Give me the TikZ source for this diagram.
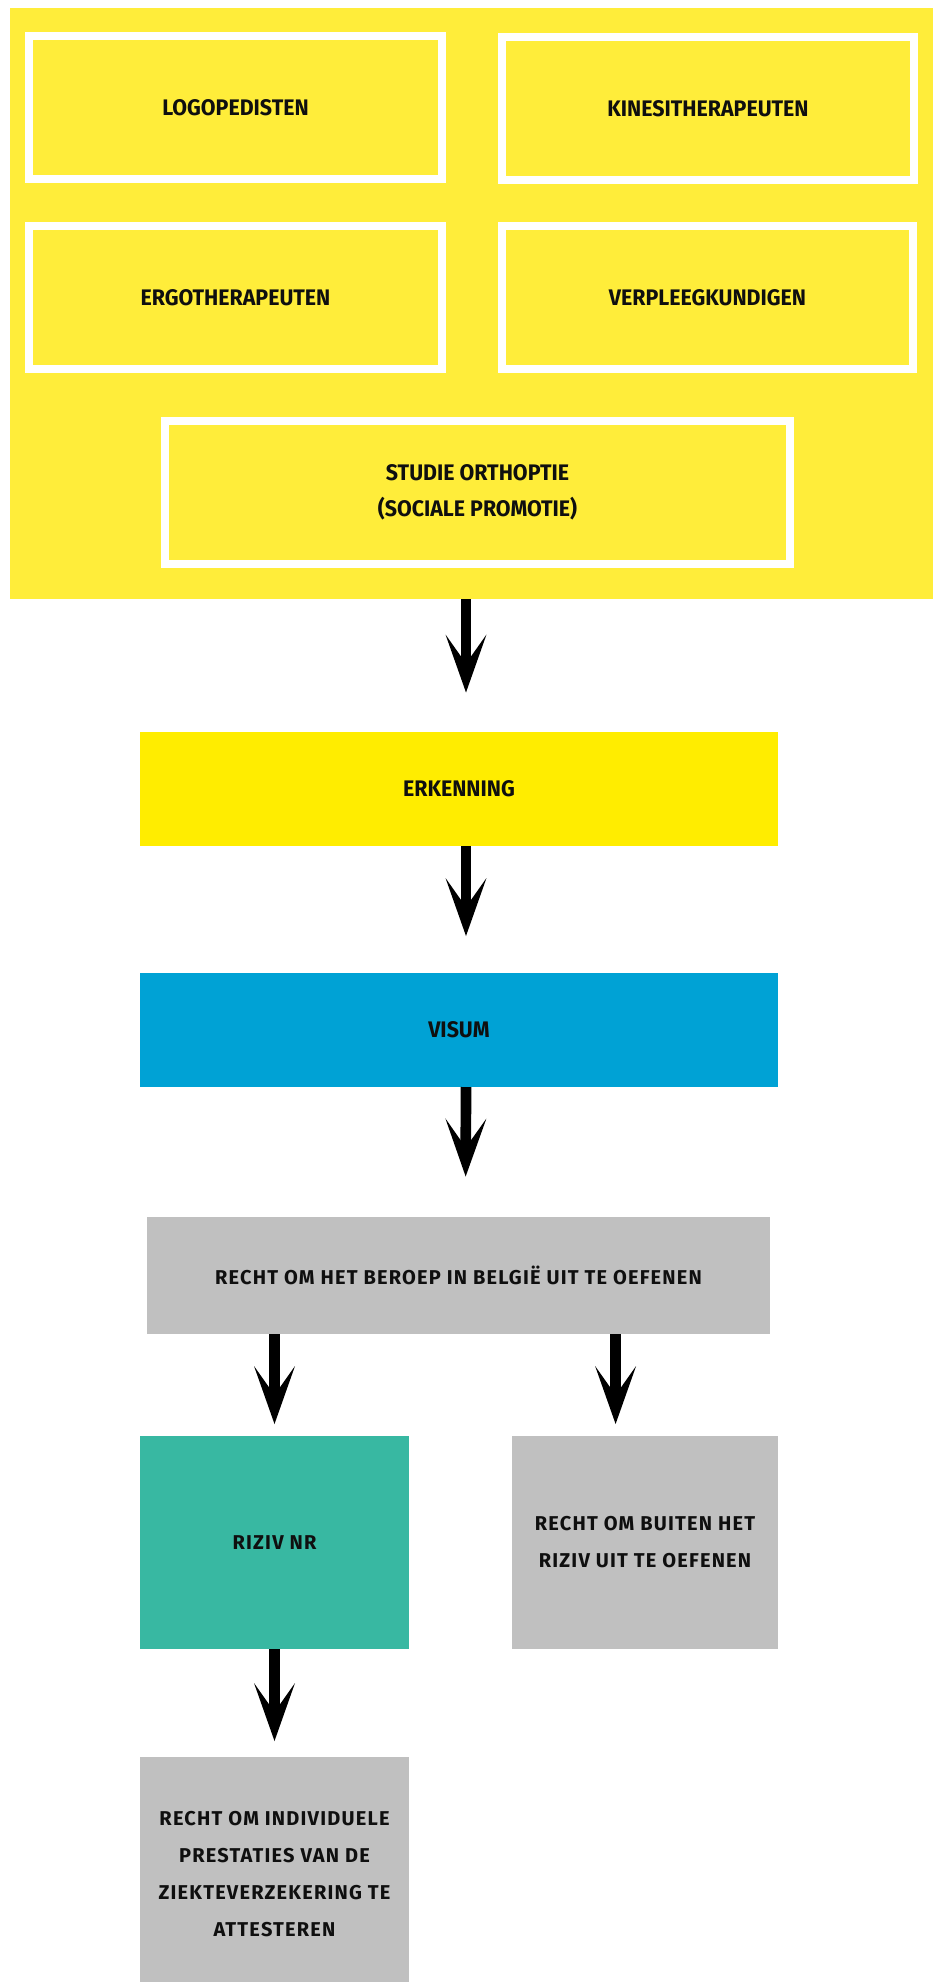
\documentclass[tikz,border=0pt]{standalone}
\usepackage{fontspec}
\setmainfont{Fira Sans}
\newfontfamily\condfont{Fira Sans}[FakeStretch=0.95]
\newfontfamily\widefont{Fira Sans}[LetterSpace=6.0]
\usetikzlibrary{arrows.meta}
\definecolor{bgyellow}{RGB}{255,237,58}
\definecolor{yell}{RGB}{255,237,0}
\definecolor{blu}{RGB}{0,162,213}
\definecolor{gry}{RGB}{192,192,192}
\definecolor{tealc}{RGB}{56,184,162}
\definecolor{ink}{RGB}{15,15,15}
\begin{document}
\begin{tikzpicture}[x=1pt,y=-1pt,
  every node/.style={inner sep=0pt,outer sep=0pt},
  wbox/.style={draw=white,line width=8pt,fill=bgyellow,minimum width=#1-8pt,minimum height=143pt,
    font=\condfont\bfseries\fontsize{22.5}{35.6}\selectfont,text=ink,align=center},
  cbox/.style={fill=#1,font=\condfont\bfseries\fontsize{22.5}{35.6}\selectfont,text=ink,align=center},
  gbox/.style={fill=#1,font=\widefont\bfseries\fontsize{20}{37}\selectfont,text=ink,align=center},
  arr/.style={line width=10.7pt,draw=black,
    -{Stealth[length=58pt,width=41pt,inset=29pt,line width=0pt]}}]
\useasboundingbox (0,0) rectangle (933,1982);
\fill[white] (0,0) rectangle (933,1982);
% top yellow panel
\node[fill=bgyellow,minimum width=923pt,minimum height=591pt] (bg) at (471.5,303.5) {};
\node[wbox=421pt] (logo) at (235.5,107.5) {LOGOPEDISTEN};
\node[wbox=420pt] (kine) at (708,108.3) {KINESITHERAPEUTEN};
\node[wbox=421pt] (ergo) at (235.5,297.5) {ERGOTHERAPEUTEN};
\node[wbox=419pt] (verp) at (707.5,297.5) {VERPLEEGKUNDIGEN};
\node[wbox=633pt] (stud) at (477.5,492.5) {STUDIE ORTHOPTIE\\(SOCIALE PROMOTIE)};
% chain
\node[cbox=yell,minimum width=638pt,minimum height=114pt] (erk) at (459,789) {ERKENNING};
\node[cbox=blu,minimum width=638pt,minimum height=114pt] (vis) at (459,1030) {VISUM};
\node[gbox=gry,minimum width=623pt,minimum height=117.5pt] (recht) at (458.5,1275.25) {RECHT OM HET BEROEP IN BELGIË UIT TE OEFENEN};
\node[gbox=tealc,minimum width=269pt,minimum height=213pt] (riziv) at (274.5,1542.5) {RIZIV NR};
\node[gbox=gry,minimum width=266pt,minimum height=213pt] (buiten) at (645,1542.5) {RECHT OM BUITEN HET\\RIZIV UIT TE OEFENEN};
\node[gbox=gry,minimum width=269pt,minimum height=235pt] (attest) at (274.5,1874.5) {RECHT OM INDIVIDUELE\\PRESTATIES VAN DE\\ZIEKTEVERZEKERING TE\\ATTESTEREN};
% arrows
\draw[arr,shorten >=39.5pt] ([xshift=7pt]bg.south -| erk.north) -- ([xshift=7pt]erk.north);
\draw[arr,shorten >=37pt] ([xshift=7pt]erk.south) -- ([xshift=7pt]vis.north);
\draw[arr,shorten >=40pt] ([xshift=7pt]vis.south) -- ([xshift=7pt]recht.north);
\draw[arr,shorten >=12pt] (recht.south -| riziv.north) -- (riziv.north);
\draw[arr,shorten >=12pt] ([xshift=-29.4pt]recht.south -| buiten.north) -- ([xshift=-29.4pt]buiten.north);
\draw[arr,shorten >=16pt] (riziv.south) -- (attest.north);
\end{tikzpicture}
\end{document}
